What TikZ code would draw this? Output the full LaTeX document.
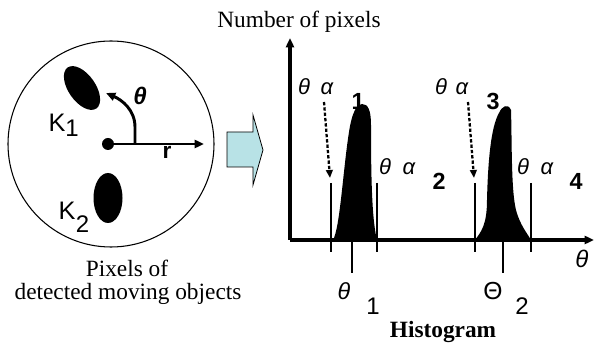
\documentclass[tikz,border=0pt]{standalone}
\usepackage{fontspec}
\setmainfont{Liberation Serif}
\newfontfamily\arial{Liberation Sans}
\usetikzlibrary{arrows.meta}
\definecolor{arrowcyan}{RGB}{184,226,230}
\tikzset{
  serif/.style={font=\fontsize{17.5}{20}\selectfont, inner sep=0pt, anchor=base},
  sanslbl/.style={font=\arial\fontsize{16}{18}\selectfont, inner sep=0pt, anchor=base},
  greek/.style={font=\arial\itshape\fontsize{16.5}{18}\selectfont, inner sep=0pt, anchor=base},
  idx/.style={font=\arial\bfseries\fontsize{17.5}{18}\selectfont, inner sep=0pt, anchor=base},
  subidx/.style={font=\arial\fontsize{18}{18}\selectfont, inner sep=0pt, anchor=base},
  sansbig/.style={font=\arial\fontsize{19}{20}\selectfont, inner sep=0pt, anchor=base},
  axis/.style={line width=2.4pt, -{Triangle[length=7pt,width=6pt]}},
  tick/.style={line width=0.8pt},
  peak/.style={fill=black},
  dasharrow/.style={line width=1.7pt, dash pattern=on 2.5pt off 1.5pt, -{Triangle[length=6pt,width=5pt]}},
}
\begin{document}
\begin{tikzpicture}[x=0.75pt,y=-0.75pt]
\useasboundingbox (0,0) rectangle (594,345);
% left disk
\draw[line width=0.8pt] (111,144) circle[radius=103];
\fill[rotate around={-55:(82,88)}] (82,88) ellipse[x radius=25, y radius=13.5];
\fill (108,198) ellipse[x radius=14.5, y radius=25];
\node[sansbig] (k1) at (57,132) {K};
\node[subidx] (k1s) at (72,137) {1};
\node[sansbig] (k2) at (67,220) {K};
\node[subidx] (k2s) at (82.5,233) {2};
\fill (108,144) circle[radius=6];
\coordinate (o) at (108,144);
\coordinate (rend) at (204,144);
\draw[line width=2.2pt, -{Triangle[length=7pt,width=6pt]}] (o) -- (rend);
\coordinate (tstart) at (135,144);
\coordinate (tend) at (106,93);
\draw[line width=2.2pt, -{Triangle[length=7pt,width=6pt]}] (tstart) -- (135,127) .. controls (135,110) and (122,100) .. (tend);
\node[sansbig, font=\arial\bfseries\itshape\fontsize{18}{20}\selectfont] (th) at (140,105) {θ};
\node[sansbig, font=\arial\bfseries\fontsize{17}{20}\selectfont] (r) at (167,159) {r};
\node[serif] (cap1) at (127,277) {Pixels of};
\node[serif] (cap2) at (128,300) {detected moving objects};
% block arrow
\draw[fill=arrowcyan, line width=0.6pt] (227,132) -- (253,132) -- (253,115) -- (263,150) -- (253,185) -- (253,167) -- (227,167) -- cycle;
% histogram axes
\coordinate (orig) at (290,240);
\coordinate (ytop) at (290,38);
\coordinate (xend) at (594,240);
\draw[axis] (orig) -- (ytop);
\draw[axis] (orig) -- (xend);
\node[serif] (ylab) at (299,28) {Number of pixels};
\node[greek, font=\arial\itshape\fontsize{18}{20}\selectfont] (xlab) at (582,268) {θ};
% peaks
\fill[peak] (333,240) .. controls (340,228) and (343,170) .. (349,132) .. controls (352,112) and (357,104) .. (362,104) .. controls (368,104) and (371,110) .. (371,125) .. controls (371,180) and (372,220) .. (377,240) -- cycle;
\fill[peak] (475,240) .. controls (481,232) and (487,225) .. (487,200) .. controls (488,160) and (491,127) .. (499,113) .. controls (502,106) and (508,103) .. (511,110) .. controls (512,140) and (511,190) .. (516,210) .. controls (520,225) and (527,233) .. (531,240) -- cycle;
% ticks
\draw[tick] (331,183) -- (331,252);
\draw[tick] (377,183) -- (377,252);
\draw[tick] (352,240) -- (352,273);
\draw[tick] (475,183) -- (475,252);
\draw[tick] (531,183) -- (531,252);
\draw[tick] (503,240) -- (503,273);
% dashed arrows
\coordinate (d1s) at (324,102);
\coordinate (d1e) at (330,178);
\coordinate (d2s) at (468,102);
\coordinate (d2e) at (474,178);
\draw[dasharrow] (d1s) -- (d1e);
\draw[dasharrow] (d2s) -- (d2e);
% labels
\node[greek] (t1) at (304,95) {θ};
\node[greek] (a1) at (327,95) {α};
\node[idx] (n1) at (358,110) {1};
\node[greek] (t2) at (385,175) {θ};
\node[greek] (a2) at (409,175) {α};
\node[idx] (n2) at (439,190) {2};
\node[greek] (t3) at (441,95) {θ};
\node[greek] (a3) at (462,95) {α};
\node[idx] (n3) at (493,110) {3};
\node[greek] (t4) at (523,175) {θ};
\node[greek] (a4) at (547,175) {α};
\node[idx] (n4) at (576,190) {4};
\node[greek, font=\arial\itshape\fontsize{17.5}{18}\selectfont] (b1) at (344,300) {θ};
\node[subidx] (b1s) at (373,315) {1};
\node[subidx, font=\arial\fontsize{18.5}{18}\selectfont] (b2) at (493,300) {Θ};
\node[subidx] (b2s) at (522,315) {2};
\node[serif, font=\bfseries\fontsize{17.5}{20}\selectfont] (hist) at (443,338) {Histogram};
\end{tikzpicture}
\end{document}
